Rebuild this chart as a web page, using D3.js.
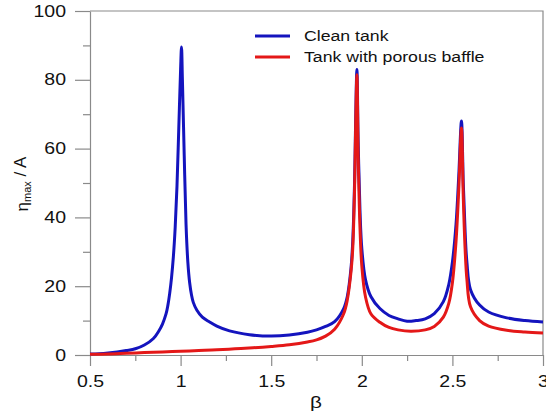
<!DOCTYPE html>
<html>
<head>
<meta charset="utf-8">
<script src="https://cdn.jsdelivr.net/npm/d3@7"></script>
<style>
  body { margin: 0; background: #fff; }
  text { font-family: "Liberation Sans", Arial, sans-serif; fill: #111; }
  .axis path, .axis line { stroke: #8a8a8a; stroke-width: 1.2; }
</style>
</head>
<body>
<script>
// data: beta and eta_max / A for each tank
var betaClean = [0.5, 0.55, 0.6, 0.65, 0.7, 0.75, 0.8, 0.85, 0.88, 0.9, 0.92, 0.93, 0.94, 0.95, 0.96, 0.97, 0.98, 0.99, 1.0, 1.005, 1.01, 1.02, 1.03, 1.04, 1.05, 1.06, 1.07, 1.09, 1.12, 1.16, 1.2, 1.27, 1.38, 1.5, 1.6, 1.7, 1.75, 1.8, 1.85, 1.9, 1.92, 1.94, 1.95, 1.96, 1.965, 1.973, 1.98, 1.99, 2.0, 2.02, 2.05, 2.1, 2.15, 2.2, 2.25, 2.3, 2.35, 2.4, 2.45, 2.48, 2.5, 2.52, 2.535, 2.55, 2.56, 2.57, 2.58, 2.6, 2.65, 2.7, 2.8, 2.9, 3.0];
var etaClean = [0.3, 0.4, 0.6, 0.9, 1.3, 1.8, 2.9, 4.8, 7, 9, 12, 14.5, 18, 22.5, 28.5, 37, 49, 66, 83, 89.5, 80, 58, 38, 27, 21, 17.5, 15.3, 13, 11, 9.6, 8.4, 7, 5.9, 5.5, 5.8, 6.6, 7.3, 8.3, 9.7, 13.5, 17, 25, 33, 50, 65, 83, 62, 42, 31, 22, 17, 13.5, 11.5, 10.5, 9.8, 10, 10.5, 12, 15.5, 20.5, 27, 38, 52, 68, 50, 36, 27, 19, 14.5, 12.5, 10.8, 10, 9.6];

var betaBaffle = [0.5, 0.6, 0.7, 0.8, 0.9, 1.0, 1.1, 1.2, 1.3, 1.4, 1.5, 1.6, 1.7, 1.75, 1.8, 1.85, 1.9, 1.92, 1.94, 1.95, 1.96, 1.965, 1.973, 1.98, 1.99, 2.0, 2.02, 2.05, 2.1, 2.15, 2.2, 2.27, 2.35, 2.4, 2.45, 2.48, 2.5, 2.52, 2.535, 2.55, 2.56, 2.57, 2.58, 2.6, 2.65, 2.7, 2.8, 2.9, 3.0];
var etaBaffle = [0.2, 0.3, 0.5, 0.7, 0.9, 1.1, 1.3, 1.5, 1.8, 2.1, 2.5, 3, 3.8, 4.4, 5.5, 7.5, 12, 16, 24, 31, 48, 63, 81.5, 58, 37, 26, 17, 12, 9.5, 8, 7.3, 6.9, 7.3, 8.3, 11, 15, 21, 33, 48, 66, 46, 31, 22, 14, 10, 8.4, 7.2, 6.7, 6.4];

var seriesNames = ["Clean tank", "Tank with porous baffle"];
var seriesColors = ["#1414be", "#e41818"];

var xMajor = [0.5, 1, 1.5, 2, 2.5, 3];
var xMinor = [0.75, 1.25, 1.75, 2.25, 2.75];
var yMajor = [0, 20, 40, 60, 80, 100];
var yMinor = [10, 30, 50, 70, 90];

window.onload = function() {

  var margin = { top: 11, right: 3, bottom: 59, left: 90 };
  var width = 546 - margin.left - margin.right;
  var height = 414 - margin.top - margin.bottom;
  var sx = 1.22; // the reference text is a bit wide

  var svg = d3.select("body")
    .append("svg")
      .attr("width", 546)
      .attr("height", 414)
    .append("g")
      .attr("transform", "translate(" + margin.left + "," + margin.top + ")");

  var xscale = d3.scaleLinear().domain([0.5, 3]).range([0, width]);
  var yscale = d3.scaleLinear().domain([0, 100]).range([height, 0]);

  // minor ticks first
  svg.append("g")
    .attr("class", "axis")
    .attr("transform", "translate(0," + height + ")")
    .call(d3.axisBottom(xscale).tickValues(xMinor).tickSize(6).tickFormat(""))
    .select(".domain").remove();

  svg.append("g")
    .attr("class", "axis")
    .call(d3.axisLeft(yscale).tickValues(yMinor).tickSize(7).tickFormat(""))
    .select(".domain").remove();

  // x axis
  var gx = svg.append("g")
    .attr("class", "axis")
    .attr("transform", "translate(0," + height + ")")
    .call(d3.axisBottom(xscale).tickValues(xMajor).tickSize(11).tickSizeOuter(0).tickPadding(10)
      .tickFormat(function(d) { return String(d); }));
  gx.selectAll("text")
    .style("font-size", "16px")
    .attr("fill", "#111")
    .attr("transform", "scale(" + sx + ",1)");

  // y axis
  var gy = svg.append("g")
    .attr("class", "axis")
    .call(d3.axisLeft(yscale).tickValues(yMajor).tickSize(15).tickSizeOuter(0).tickPadding(9));
  gy.selectAll("text")
    .style("font-size", "16px")
    .attr("fill", "#111")
    .attr("x", -24 / sx)
    .attr("transform", "scale(" + sx + ",1)");

  // top and right frame
  svg.append("path")
    .attr("d", "M0,0H" + width + "V" + height)
    .attr("fill", "none")
    .attr("stroke", "#8a8a8a")
    .attr("stroke-width", 1.2);

  // curves
  var line = d3.line()
    .x(function(d) { return xscale(d[0]); })
    .y(function(d) { return yscale(d[1]); })
    .curve(d3.curveCatmullRom.alpha(0.5));

  var series = [
    d3.zip(betaClean, etaClean),
    d3.zip(betaBaffle, etaBaffle)
  ];

  svg.selectAll("path.curve")
    .data(series)
    .enter().append("path")
      .attr("class", "curve")
      .attr("d", line)
      .attr("fill", "none")
      .attr("stroke", function(d, i) { return seriesColors[i]; })
      .attr("stroke-width", 3)
      .attr("stroke-linejoin", "round");

  // legend
  var legend = svg.selectAll(".legend")
    .data(seriesNames)
    .enter().append("g")
      .attr("class", "legend")
      .attr("transform", function(d, i) { return "translate(165," + (25 + i * 21) + ")"; });

  legend.append("line")
    .attr("x1", 0)
    .attr("x2", 35)
    .attr("stroke", function(d, i) { return seriesColors[i]; })
    .attr("stroke-width", 3);

  legend.append("text")
    .attr("x", 49 / sx)
    .attr("dy", "0.36em")
    .attr("transform", "scale(" + sx + ",1)")
    .style("font-size", "14.5px")
    .text(function(d) { return d; });

  // axis labels
  svg.append("text")
    .attr("transform", "translate(" + (316 - margin.left) + "," + (408 - margin.top) + ") scale(" + sx + ",1)")
    .attr("text-anchor", "middle")
    .style("font-size", "17px")
    .text("β");

  var ylab = svg.append("text")
    .attr("transform", "translate(" + (28 - margin.left) + "," + (184 - margin.top) + ") rotate(-90)")
    .attr("text-anchor", "middle")
    .style("font-size", "17px");
  ylab.append("tspan").text("η");
  ylab.append("tspan").attr("dy", "0.3em").style("font-size", "11px").text("max");
  ylab.append("tspan").attr("dy", "-0.3em").text(" / A");
};
</script>
</body>
</html>
